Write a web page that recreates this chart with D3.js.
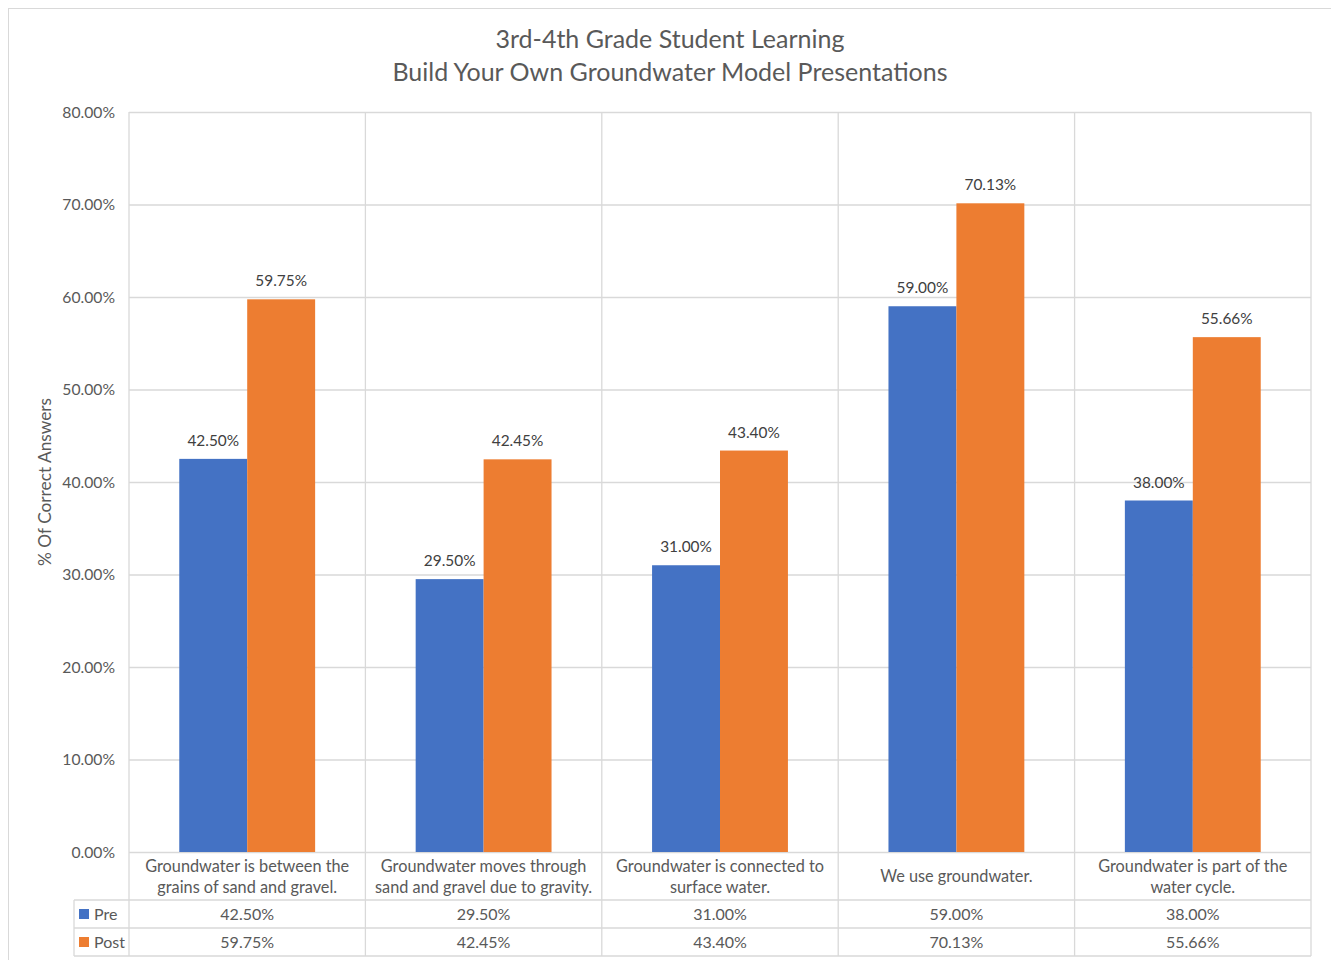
<!DOCTYPE html>
<html>
<head>
<meta charset="utf-8">
<script src="https://cdn.jsdelivr.net/npm/d3@7"></script>
<style>
  html, body { margin: 0; padding: 0; background: #fff; }
  svg { display: block; font-family: Lato, "Open Sans", sans-serif; }
</style>
</head>
<body>
<svg id="chart" width="1331" height="960"></svg>
<script>
// Survey questions (each split into display lines) and pre/post scores
const categories = [
  ["Groundwater is between the", "grains of sand and gravel."],
  ["Groundwater moves through", "sand and gravel due to gravity."],
  ["Groundwater is connected to", "surface water."],
  ["We use groundwater."],
  ["Groundwater is part of the", "water cycle."]
];
const preValues = [42.50, 29.50, 31.00, 59.00, 38.00];
const postValues = [59.75, 42.45, 43.40, 70.13, 55.66];
const seriesNames = ["Pre", "Post"];
const seriesColors = ["#4472C4", "#ED7D31"];
const yTicks = [0, 10, 20, 30, 40, 50, 60, 70, 80];
const titleLines = ["3rd-4th Grade Student Learning", "Build Your Own Groundwater Model Presentations"];
const yAxisTitle = "% Of Correct Answers";

const svg = d3.select("#chart");
const textColor = "#595959";
const gridColor = "#D9D9D9";

const plot = { left: 129, right: 1311, top: 112, bottom: 852 };
const fmt = v => v.toFixed(2) + "%";

// Outer chart frame
svg.append("rect")
  .attr("x", 8.5).attr("y", 8.5).attr("width", 1340).attr("height", 960)
  .attr("fill", "none").attr("stroke", gridColor);

// Scales
const x = d3.scaleBand()
  .domain(d3.range(categories.length))
  .range([plot.left, plot.right])
  .paddingInner(0).paddingOuter(0);
const xSeries = d3.scaleBand()
  .domain(seriesNames)
  .range([0, x.bandwidth()])
  .paddingInner(0)
  .paddingOuter(0.74);
const y = d3.scaleLinear().domain([0, 80]).range([plot.bottom, plot.top]);

// Title
svg.append("g").selectAll("text")
  .data(titleLines).join("text")
  .attr("x", 670).attr("y", (d, i) => 48 + i * 33)
  .attr("text-anchor", "middle")
  .attr("fill", textColor)
  .attr("font-size", 25)
  .text(d => d);

// Horizontal gridlines and y tick labels
const yAxis = d3.axisLeft(y).tickValues(yTicks).tickSize(-(plot.right - plot.left))
  .tickFormat(d => d.toFixed(2) + "%").tickPadding(14);
const gy = svg.append("g").attr("transform", `translate(${plot.left},0)`).call(yAxis);
gy.select(".domain").remove();
gy.selectAll(".tick line").attr("stroke", gridColor).attr("stroke-width", 1.3);
gy.selectAll(".tick text").attr("fill", textColor).attr("font-size", 15.7)
  .attr("font-family", "Lato, sans-serif").attr("dy", "0.32em");

// Vertical category separators (run down through the data table)
const sepX = d3.range(categories.length + 1).map(i => i < categories.length ? x(i) : plot.right);
svg.append("g").selectAll("line")
  .data(sepX).join("line")
  .attr("x1", d => d).attr("x2", d => d)
  .attr("y1", plot.top).attr("y2", 956)
  .attr("stroke", gridColor).attr("stroke-width", 1.3);

// Bars
const groups = svg.append("g").selectAll("g")
  .data(categories.map((c, i) => ({ i, vals: [preValues[i], postValues[i]] })))
  .join("g")
  .attr("transform", d => `translate(${x(d.i)},0)`);

groups.selectAll("rect")
  .data(d => d.vals.map((v, k) => ({ v, k })))
  .join("rect")
  .attr("x", d => xSeries(seriesNames[d.k]))
  .attr("width", xSeries.bandwidth())
  .attr("y", d => y(d.v))
  .attr("height", d => y(0) - y(d.v))
  .attr("fill", d => seriesColors[d.k]);

// Value labels above bars
groups.selectAll("text.val")
  .data(d => d.vals.map((v, k) => ({ v, k })))
  .join("text").attr("class", "val")
  .attr("x", d => xSeries(seriesNames[d.k]) + xSeries.bandwidth() / 2)
  .attr("y", d => y(d.v) - 13)
  .attr("text-anchor", "middle")
  .attr("fill", "#404040")
  .attr("font-size", 15.4)
  .text(d => fmt(d.v));

// Data table: category header row
const catRowBottom = 900;
const rowH = 28;
const tableLeft = 74;

const catText = svg.append("g").selectAll("text")
  .data(categories.map((lines, i) => ({ lines, i })))
  .join("text")
  .attr("text-anchor", "middle")
  .attr("fill", textColor)
  .attr("font-size", 16.3);
catText.each(function(d) {
  const t = d3.select(this);
  const cx = x(d.i) + x.bandwidth() / 2;
  const startY = d.lines.length === 1 ? 882 : 872;
  d.lines.forEach((ln, j) => {
    t.append("tspan").attr("x", cx).attr("y", startY + j * 21).text(ln);
  });
});

// Table horizontal rules
const hLines = [catRowBottom, catRowBottom + rowH, catRowBottom + rowH * 2];
svg.append("g").selectAll("line")
  .data(hLines).join("line")
  .attr("x1", tableLeft).attr("x2", plot.right)
  .attr("y1", d => d).attr("y2", d => d)
  .attr("stroke", gridColor).attr("stroke-width", 1.3);

// Left edge of the legend column
svg.append("line")
  .attr("x1", tableLeft).attr("x2", tableLeft)
  .attr("y1", catRowBottom).attr("y2", catRowBottom + rowH * 2)
  .attr("stroke", gridColor).attr("stroke-width", 1.3);

// Table value rows with legend keys
const rows = [preValues, postValues];
rows.forEach((vals, r) => {
  const cy = catRowBottom + rowH * r + rowH / 2;
  svg.append("rect")
    .attr("x", 79).attr("y", cy - 5)
    .attr("width", 10).attr("height", 10)
    .attr("fill", seriesColors[r]);
  svg.append("text")
    .attr("x", 94).attr("y", cy + 6)
    .attr("fill", textColor).attr("font-size", 16)
    .text(seriesNames[r]);
  svg.append("g").selectAll("text")
    .data(vals).join("text")
    .attr("x", (d, i) => x(i) + x.bandwidth() / 2)
    .attr("y", cy + 6)
    .attr("text-anchor", "middle")
    .attr("fill", textColor).attr("font-size", 16)
    .text(d => fmt(d));
});

// Y axis title
svg.append("text")
  .attr("transform", `translate(51,${(plot.top + plot.bottom) / 2}) rotate(-90)`)
  .attr("text-anchor", "middle")
  .attr("fill", textColor)
  .attr("font-size", 17.3)
  .text(yAxisTitle);
</script>
</body>
</html>
